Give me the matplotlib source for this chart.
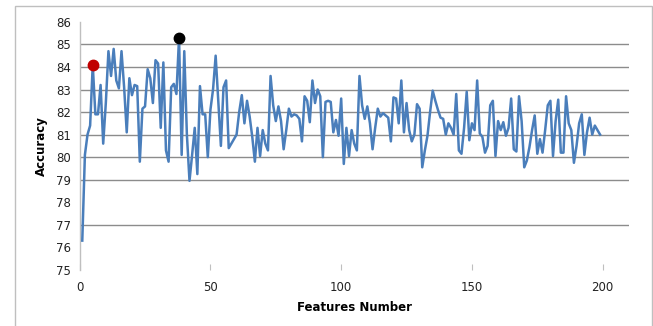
import matplotlib
matplotlib.use("Agg")
import matplotlib.pyplot as plt
from matplotlib.patches import Rectangle

# accuracy for feature counts 1..199
accuracy = [
    76.3, 80.1, 81.0, 81.4, 84.1, 81.9, 81.9, 83.2, 80.6, 82.4,
    84.7, 83.6, 84.8, 83.4, 83.05, 84.7, 83.1, 81.1, 83.5, 82.75,
    83.2, 83.15, 79.8, 82.15, 82.25, 83.9, 83.5, 82.4, 84.3, 84.15,
    81.3, 84.2, 80.3, 79.8, 83.1, 83.25, 82.8, 85.3, 80.1, 84.7,
    81.0, 78.95, 80.1, 81.3, 79.25, 83.15, 81.9, 81.9, 80.0, 82.1,
    83.0, 84.5, 82.5, 80.5, 83.1, 83.4, 80.4, 80.6, 80.8, 81.0,
    82.0, 82.75, 81.5, 82.5, 81.8, 80.9, 79.8, 81.3, 80.05, 81.2,
    80.6, 80.3, 83.6, 82.3, 81.6, 82.25, 81.6, 80.35, 81.2, 82.15,
    81.8, 81.9, 81.85, 81.7, 80.7, 82.7, 82.5, 81.55, 83.4, 82.4,
    83.0, 82.7, 80.0, 82.45, 82.5, 82.45, 81.1, 81.65, 80.95, 82.6,
    79.7, 81.3, 80.05, 81.2, 80.6, 80.3, 83.6, 82.3, 81.7, 82.25,
    81.5, 80.35, 81.3, 82.15, 81.8, 81.95, 81.85, 81.75, 80.7, 82.65,
    82.6, 81.5, 83.4, 81.1, 82.4, 81.2, 80.7, 81.0, 82.35, 82.15,
    79.55, 80.3, 80.95, 82.0, 82.95, 82.5, 82.1, 81.75, 81.7, 81.0,
    81.5, 81.3, 81.0, 82.8, 80.3, 80.15, 81.3, 82.9, 80.75, 81.5,
    81.2, 83.4, 81.05, 80.9, 80.2, 80.5, 82.3, 82.5, 80.05, 81.6,
    81.2, 81.55, 80.95, 81.3, 82.6, 80.35, 80.25, 82.7, 81.6, 79.55,
    79.85, 80.45, 81.2, 81.85, 80.15, 80.8, 80.2, 81.2, 82.3, 82.5,
    80.05, 81.6, 82.55, 80.2, 80.2, 82.7, 81.5, 81.2, 79.75, 80.5,
    81.5, 81.9, 80.1, 81.1, 81.75, 81.0, 81.4, 81.2, 81.0,
]
features = list(range(1, len(accuracy) + 1))

# highlighted points
red_x, red_y = 5, 84.1
black_x, black_y = 38, 85.3

y_ticks = [75, 76, 77, 78, 79, 80, 81, 82, 83, 84, 85, 86]
x_ticks = [0, 50, 100, 150, 200]
no_grid = [75, 76, 78, 86]  # these lines are not drawn in the original

font = ['Liberation Sans Narrow', 'DejaVu Sans']

fig = plt.figure(figsize=(6.53, 3.26), dpi=100)
ax = fig.add_axes([0.122, 0.172, 0.841, 0.761])

ax.plot(features, accuracy, color='#4a7ebb', lw=1.8, solid_joinstyle='round', zorder=3)
ax.plot(red_x, red_y, 'o', color='#c00000', ms=7.5, zorder=4)
ax.plot(black_x, black_y, 'o', color='black', ms=7.5, zorder=4)

ax.set_xlim(0, 210)
ax.set_ylim(75, 86)
ax.set_yticks(y_ticks)
ax.set_xticks(x_ticks)

ax.yaxis.grid(True, color='#8c8c8c', lw=1.0)
for val, gl in zip(y_ticks, ax.yaxis.get_gridlines()):
    if val in no_grid:
        gl.set_visible(False)
ax.set_axisbelow(True)

for s in ['top', 'right', 'bottom']:
    ax.spines[s].set_visible(False)
ax.spines['left'].set_color('#bfbfbf')
ax.spines['left'].set_linewidth(1.0)

ax.tick_params(axis='y', length=0, pad=6, labelsize=8.5, labelcolor='#222222')
ax.tick_params(axis='x', length=4, direction='in', color='#bfbfbf', pad=8,
               labelsize=8.5, labelcolor='#222222')
for lab in ax.get_xticklabels() + ax.get_yticklabels():
    lab.set_family(font)

ax.set_xlabel('Features Number', fontsize=8.5, fontweight='bold', family=font, labelpad=5)
ax.set_ylabel('Accuracy', fontsize=8.5, fontweight='bold', family=font, labelpad=6)

# chart area border
fig.patches.append(Rectangle((15 / 653, -0.01), 637 / 653, 1 - 6 / 326 + 0.01,
                             transform=fig.transFigure, fill=False,
                             edgecolor='#bfbfbf', lw=1.0))

fig.savefig('out.png', dpi=100)
